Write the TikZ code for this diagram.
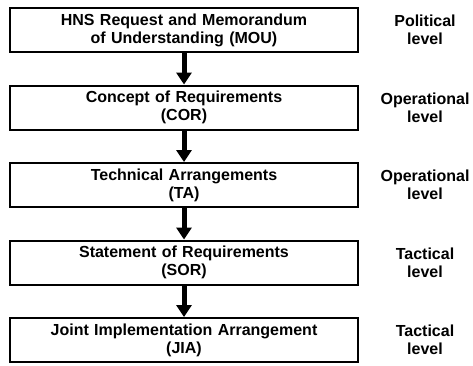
\documentclass[tikz,border=0pt]{standalone}
\usepackage{fontspec}
\setmainfont{Liberation Sans}
\usepackage{tikz}
\usetikzlibrary{arrows.meta,positioning}

\begin{document}
\begin{tikzpicture}[x=1pt,y=1pt,
docbox/.style={draw, line width=2pt, minimum width=348pt, minimum height=44pt,
  text width=340pt, align=center, inner sep=2pt, font=\fontsize{16}{18}\selectfont\bfseries},
lvl/.style={align=center, inner sep=0pt, font=\fontsize{16}{18}\selectfont\bfseries},
flow/.style={line width=5pt, -{Triangle[width=15pt,length=12pt]}}]
\useasboundingbox (0,0) rectangle (473,-365);
\node[docbox] (mou) at (184,-30) {HNS Request and Memorandum\\of Understanding (MOU)};
\node[docbox, below=31.5pt of mou] (cor) {Concept of Requirements\\(COR)};
\node[docbox, below=31.5pt of cor] (ta) {Technical Arrangements\\(TA)};
\node[docbox, below=31.5pt of ta] (sor) {Statement of Requirements\\(SOR)};
\node[docbox, below=31.5pt of sor] (jia) {Joint Implementation Arrangement\\(JIA)};
% levels
\node[lvl] (mou-l) at ([xshift=66pt]mou.east) {Political\\level};
\node[lvl] (cor-l) at ([xshift=66pt]cor.east) {Operational\\level};
\node[lvl] (ta-l) at ([xshift=66pt]ta.east) {Operational\\level};
\node[lvl] (sor-l) at ([xshift=66pt]sor.east) {Tactical\\level};
\node[lvl] (jia-l) at ([xshift=66pt]jia.east) {Tactical\\level};
\draw[flow] (mou.south)--(cor.north);
\draw[flow] (cor.south)--(ta.north);
\draw[flow] (ta.south)--(sor.north);
\draw[flow] (sor.south)--(jia.north);
\end{tikzpicture}
\end{document}
